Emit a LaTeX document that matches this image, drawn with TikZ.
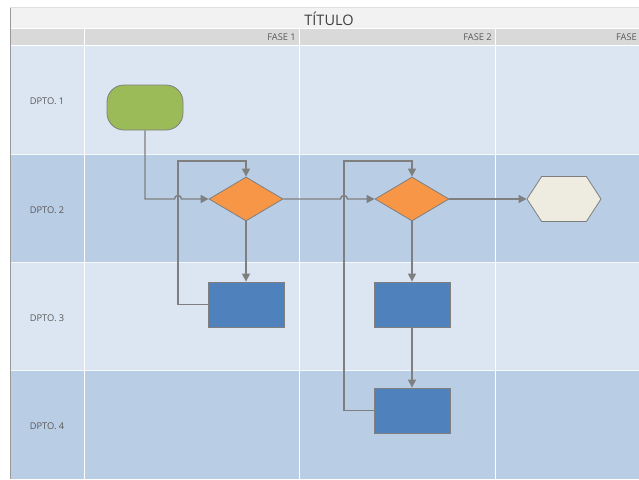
\documentclass[tikz,border=0pt]{standalone}
\usepackage{fontspec}
\setmainfont{Open Sans}
\usetikzlibrary{arrows.meta,shapes.geometric,shapes.symbols}
\definecolor{rowlight}{HTML}{DCE6F2}
\definecolor{rowdark}{HTML}{B9CDE5}
\definecolor{headbg}{HTML}{D9D9D9}
\definecolor{titlebg}{HTML}{F2F2F2}
\definecolor{txt}{HTML}{595959}
\definecolor{linegray}{HTML}{7F7F7F}
\definecolor{greenfill}{HTML}{9BBB59}
\definecolor{orangefill}{HTML}{F79646}
\definecolor{bluefill}{HTML}{4F81BD}
\definecolor{hexfill}{HTML}{EEECE1}
\tikzset{
  shapeborder/.style={draw=linegray, line width=0.8pt, inner sep=0pt},
  terminal/.style={shapeborder, fill=greenfill, rectangle, rounded corners=17pt, minimum width=76pt, minimum height=45pt},
  decision/.style={shapeborder, fill=orangefill, diamond, minimum width=74pt, minimum height=44pt},
  process/.style={shapeborder, fill=bluefill, rectangle, minimum width=76pt, minimum height=45pt},
  endhex/.style={shapeborder, fill=hexfill, signal, signal to=west and east, signal pointer angle=114, minimum width=74pt, minimum height=45pt},
  conn/.style={draw=linegray, line width=1.4pt, -{Triangle[length=8pt,width=8pt]}},
  lanelabel/.style={text=txt, font=\fontsize{9.3}{11}\selectfont, inner sep=0pt},
  phaselabel/.style={text=txt, font=\fontsize{9.3}{11}\selectfont, inner sep=0pt, anchor=east},
}
\begin{document}
\begin{tikzpicture}[x=1pt,y=-1pt]
\useasboundingbox (0,0) rectangle (639,479);
% backgrounds
\fill[white] (0,0) rectangle (639,479);
\fill[titlebg] (11,8) rectangle (639,28);
\fill[headbg] (11,28) rectangle (639,45);
\fill[rowlight] (11,45) rectangle (639,154.5);
\fill[rowdark] (11,154.5) rectangle (639,262.5);
\fill[rowlight] (11,262.5) rectangle (639,370.5);
\fill[rowdark] (11,370.5) rectangle (639,479);
% separators
\draw[white, line width=0.8pt] (11,28) -- (639,28);
\draw[white, line width=0.8pt] (11,45) -- (639,45);
\draw[white!85!rowdark, line width=0.8pt] (11,154.5) -- (639,154.5);
\draw[white!85!rowdark, line width=0.8pt] (11,262.5) -- (639,262.5);
\draw[white!85!rowdark, line width=0.8pt] (11,370.5) -- (639,370.5);
\foreach \xx in {84.5,299.5,495.5} \draw[white, line width=0.9pt] (\xx,28) -- (\xx,479);
\draw[black!12, line width=0.6pt] (10,7.5) -- (639,7.5);
\draw[black!40, line width=1pt] (10.5,7.5) -- (10.5,479);
% title and headers
\node[text=black!75, font=\fontsize{14.5}{16}\selectfont, inner sep=0pt] (title) at (329,18.5) {TÍTULO};
\node[phaselabel] (f1) at (296,37) {FASE 1};
\node[phaselabel] (f2) at (492,37) {FASE 2};
\node[phaselabel] (f3) at (637,37) {FASE};
\node[lanelabel] (l1) at (47,101) {DPTO. 1};
\node[lanelabel] (l2) at (47,210) {DPTO. 2};
\node[lanelabel] (l3) at (47,318) {DPTO. 3};
\node[lanelabel] (l4) at (47,426) {DPTO. 4};
% shapes
\node[terminal] (start) at (145,107.5) {};
\node[decision] (d1) at (246,199) {};
\node[decision] (d2) at (412,199) {};
\node[endhex] (hex) at (564,199) {};
\node[process] (rA) at (246,304.5) {};
\node[process] (rB) at (412.5,304.5) {};
\node[process] (rC) at (412.5,410.5) {};
% connectors
\draw[conn] (start.south) -- (145,199) -- (174.5,199) arc[start angle=180,end angle=360,radius=3.5] -- (d1.west);
\draw[conn] (d1.south) -- (rA.north -| d1.south);
\draw[conn] (rA.west) -| (178,161) -| (d1.north);
\draw[conn] (d1.east) -- (340.5,199) arc[start angle=180,end angle=360,radius=3.5] -- (d2.west);
\draw[conn] (d2.south) -- (rB.north -| d2.south);
\draw[conn] (rB.south -| d2.south) -- (rC.north -| d2.south);
\draw[conn] (rC.west) -| (344,161) -| (d2.north);
\draw[conn] (d2.east) -- (hex.west);
\end{tikzpicture}
\end{document}
